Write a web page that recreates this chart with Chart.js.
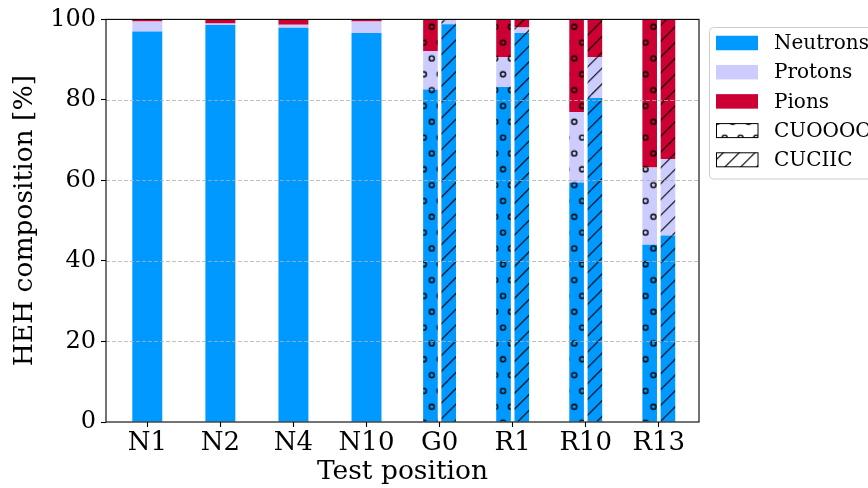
<!DOCTYPE html>
<html>
<head>
<meta charset="utf-8">
<script src="https://cdn.jsdelivr.net/npm/chart.js@4/dist/chart.umd.min.js"></script>
<style>
  html, body { margin: 0; padding: 0; background: #fff; overflow: hidden; }
  #wrap { width: 868px; height: 488px; }
</style>
</head>
<body>
<div id="wrap"><canvas id="chart" width="868" height="488"></canvas></div>
<script>
// positions on the x axis
const categories = ['N1', 'N2', 'N4', 'N10', 'G0', 'R1', 'R10', 'R13'];

// single bars (N1..N10), percent of HEH
const neutronsN = [97.0, 98.6, 97.9, 96.6];
const protonsN  = [2.5, 0.4, 0.8, 2.9];
const pionsN    = [0.5, 1.0, 1.3, 0.5];

// CUOOOO bars (G0..R13)
const neutronsO = [82.6, 83.2, 59.5, 44.0];
const protonsO  = [9.5, 7.4, 17.5, 19.2];
const pionsO    = [7.9, 9.4, 23.0, 36.8];

// CUCIIC bars (G0..R13)
const neutronsC = [98.8, 96.6, 80.5, 46.3];
const protonsC  = [1.0, 1.4, 10.1, 19.0];
const pionsC    = [0.2, 2.0, 9.4, 34.7];

const legendLabels = ['Neutrons', 'Protons', 'Pions', 'CUOOOO', 'CUCIIC'];

const BLUE = '#0099ff';
const LAVENDER = '#ccccff';
const RED = '#cc0033';
const FONT = "'DejaVu Serif', serif";

// hatch tiles, like matplotlib 'o' and '/' (6 cells per tile)
const TILE = 95, STEP = TILE / 6;

function dotPattern(color) {
    const c = document.createElement('canvas');
    c.width = TILE; c.height = TILE;
    const g = c.getContext('2d');
    g.fillStyle = color;
    g.fillRect(0, 0, TILE, TILE);
    g.strokeStyle = '#000';
    g.lineWidth = 1.4;
    for (let row = -1; row <= 7; row++) {
        const off = (row % 2 === 0) ? 0 : STEP / 2;
        for (let col = -1; col <= 7; col++) {
            g.beginPath();
            g.arc(col * STEP + off, row * STEP, 2.5, 0, Math.PI * 2);
            g.stroke();
        }
    }
    const p = g.createPattern(c, 'repeat');
    p.setTransform(new DOMMatrix().translate(431.7, 26.7));
    return p;
}

function diagPattern(color) {
    const c = document.createElement('canvas');
    c.width = TILE; c.height = TILE;
    const g = c.getContext('2d');
    g.fillStyle = color;
    g.fillRect(0, 0, TILE, TILE);
    g.strokeStyle = '#000';
    g.lineWidth = 1.1;
    for (let k = -2; k <= 14; k++) {
        g.beginPath();
        g.moveTo(k * STEP, 0);
        g.lineTo(k * STEP - TILE, TILE);
        g.stroke();
    }
    const p = g.createPattern(c, 'repeat');
    p.setTransform(new DOMMatrix().translate(654.4 % STEP, 0));
    return p;
}

const toPoints = (arr, start) => arr.map((v, i) => ({ x: start + i, y: v }));

function singleSet(label, values, color) {
    return {
        label, data: toPoints(values, 0), stack: 'N',
        backgroundColor: color, borderWidth: 0,
        categoryPercentage: 0.41, barPercentage: 1, skipNull: true
    };
}

function groupSet(label, values, fill, stack) {
    return {
        label, data: toPoints(values, 4), stack,
        backgroundColor: fill, borderWidth: 0,
        categoryPercentage: 0.5, barPercentage: 0.8, skipNull: true
    };
}

const datasets = [
    singleSet('Neutrons', neutronsN, BLUE),
    singleSet('Protons', protonsN, LAVENDER),
    singleSet('Pions', pionsN, RED),
    groupSet('Neutrons CUOOOO', neutronsO, dotPattern(BLUE), 'O'),
    groupSet('Protons CUOOOO', protonsO, dotPattern(LAVENDER), 'O'),
    groupSet('Pions CUOOOO', pionsO, dotPattern(RED), 'O'),
    groupSet('Neutrons CUCIIC', neutronsC, diagPattern(BLUE), 'C'),
    groupSet('Protons CUCIIC', protonsC, diagPattern(LAVENDER), 'C'),
    groupSet('Pions CUCIIC', pionsC, diagPattern(RED), 'C')
];

const legendFills = [BLUE, LAVENDER, RED, dotPattern('#fff'), diagPattern('#fff')];

// dashed y grid over the bars, plus the black frame
const framePlugin = {
    id: 'frame',
    afterDatasetsDraw(chart) {
        const { ctx, chartArea: a, scales: { y } } = chart;
        ctx.save();
        ctx.strokeStyle = '#b0b0b0';
        ctx.lineWidth = 0.8;
        ctx.setLineDash([4, 2]);
        y.ticks.forEach(t => {
            if (t.value <= y.min || t.value >= y.max) return;
            const py = Math.round(y.getPixelForValue(t.value)) + 0.5;
            ctx.beginPath();
            ctx.moveTo(a.left, py);
            ctx.lineTo(a.right, py);
            ctx.stroke();
        });
        ctx.setLineDash([]);
        ctx.strokeStyle = '#000';
        ctx.lineWidth = 1.1;
        ctx.strokeRect(a.left, a.top, a.right - a.left, a.bottom - a.top);
        ctx.restore();
    }
};

const legendPlugin = {
    id: 'sideLegend',
    afterDraw(chart) {
        const { ctx } = chart;
        const x0 = 709.5, y0 = 27.5;
        ctx.save();
        ctx.fillStyle = 'rgba(255,255,255,0.8)';
        ctx.strokeStyle = '#cccccc';
        ctx.lineWidth = 1;
        ctx.beginPath();
        ctx.roundRect(x0, y0, 200, 151.5, 4);
        ctx.fill();
        ctx.stroke();
        ctx.font = '20px ' + FONT;
        ctx.textBaseline = 'middle';
        legendLabels.forEach((lab, i) => {
            const cy = 43 + i * 29.2;
            ctx.fillStyle = legendFills[i];
            ctx.fillRect(716, cy - 7.25, 42, 14.5);
            if (i > 2) {
                ctx.strokeStyle = '#000';
                ctx.lineWidth = 1;
                ctx.strokeRect(716.5, cy - 7, 41.5, 14);
            }
            ctx.fillStyle = '#000';
            ctx.fillText(lab, 774, cy + 1);
        });
        ctx.restore();
    }
};

new Chart(document.getElementById('chart'), {
    type: 'bar',
    data: { datasets },
    options: {
        responsive: false,
        animation: false,
        events: [],
        layout: { padding: { top: 17, right: 169, left: 0, bottom: 0 } },
        plugins: {
            legend: { display: false },
            tooltip: { enabled: false }
        },
        scales: {
            x: {
                type: 'linear',
                stacked: true,
                offset: false,
                min: -0.565,
                max: 7.55,
                afterBuildTicks: axis => { axis.ticks = categories.map((c, i) => ({ value: i })); },
                afterFit: axis => { axis.height = 66; },
                ticks: {
                    callback: v => categories[v],
                    font: { family: FONT, size: 26 },
                    color: '#000',
                    padding: 1,
                    maxRotation: 0,
                    autoSkip: false
                },
                grid: { drawOnChartArea: false, offset: false, tickLength: 5, color: '#000', tickWidth: 1.1 },
                border: { display: false },
                title: {
                    display: true,
                    text: 'Test position',
                    font: { family: FONT, size: 26.5 },
                    color: '#000',
                    padding: { top: 0, bottom: 0 }
                }
            },
            y: {
                stacked: true,
                min: 0,
                max: 100,
                afterFit: axis => { axis.width = 106; },
                ticks: {
                    stepSize: 20,
                    font: { family: FONT, size: 24 },
                    color: '#000',
                    padding: 5
                },
                grid: { drawOnChartArea: false, tickLength: 5, color: '#000', tickWidth: 1.1 },
                border: { display: false },
                title: {
                    display: true,
                    text: 'HEH composition [%]',
                    font: { family: FONT, size: 26.5 },
                    color: '#000',
                    padding: { top: 9, bottom: 0 }
                }
            }
        }
    },
    plugins: [framePlugin, legendPlugin]
});
</script>
</body>
</html>
